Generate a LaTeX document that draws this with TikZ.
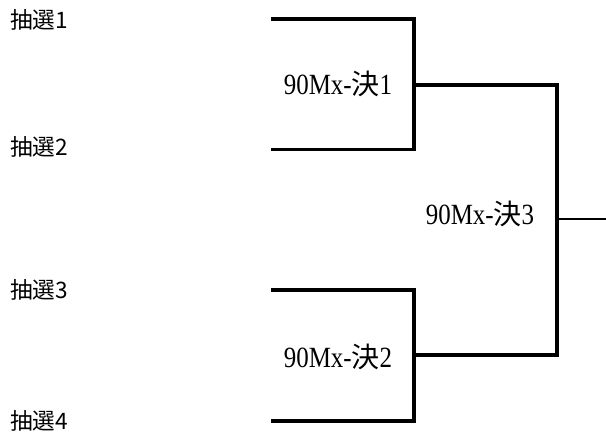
\documentclass[tikz,border=0pt]{standalone}
\usepackage{fontspec}
\setmainfont{Liberation Serif}
\newfontfamily\cjk{Noto Sans CJK JP}
\newfontfamily\lab[FakeStretch=0.85]{Liberation Serif}
\newcommand{\kj}{{\cjk\fontsize{21}{24}\selectfont 決}}
\begin{document}
\begin{tikzpicture}[x=0.75pt,y=-0.75pt,
  seed/.style={font=\cjk\fontsize{17}{20}\selectfont,anchor=west,inner sep=0pt},
  match/.style={font=\lab\fontsize{22}{24}\selectfont,anchor=center,inner sep=0pt},
  bracket/.style={line width=2.5pt,line join=miter},
  final/.style={line width=1.1pt}]
\useasboundingbox (0,0) rectangle (606,434);
\node[seed] (s1) at (10,19.5) {抽選1};
\node[seed] (s2) at (10,147) {抽選2};
\node[seed] (s3) at (10,290) {抽選3};
\node[seed] (s4) at (10,421) {抽選4};
\node[match] (k1) at (338,84) {90Mx-\kj1};
\node[match] (k2) at (338,356.5) {90Mx-\kj2};
\node[match] (k3) at (480,214) {90Mx-\kj3};
\coordinate (l1) at (271,19);
\coordinate (l2) at (271,149.5);
\coordinate (l3) at (271,290);
\coordinate (l4) at (271,421);
\coordinate (m1) at (414,85);
\coordinate (m2) at (414,355);
\coordinate (f) at (557,219);
\coordinate (out) at (606,219);
\draw[bracket] (l1) -| (m1) |- (l2);
\draw[bracket] (l3) -| (m2) |- (l4);
\draw[bracket] (m1) -| (f) |- (m2);
\draw[final] (f) -- (out);
\end{tikzpicture}
\end{document}
